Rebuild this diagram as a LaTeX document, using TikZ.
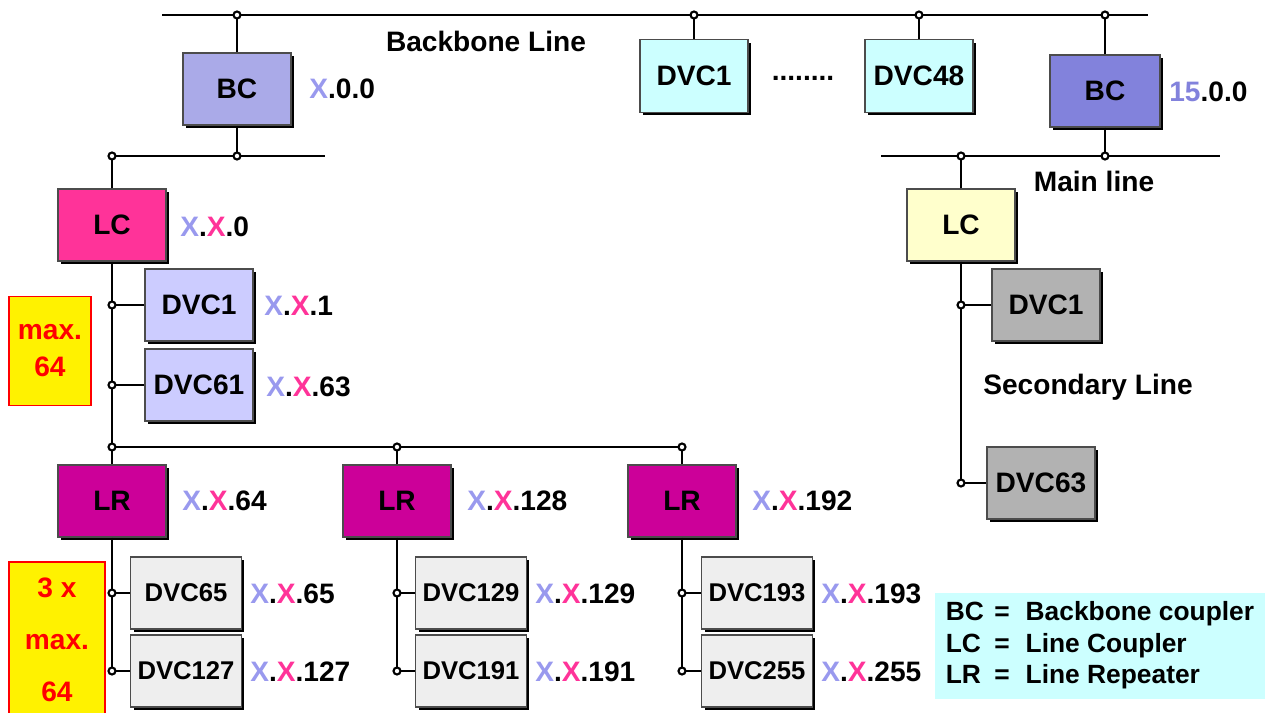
\documentclass[tikz,border=0pt]{standalone}
\usepackage{fontspec}
\setmainfont{Liberation Sans}
\usetikzlibrary{shadows}

\definecolor{bccol}{HTML}{AAAAE8}
\definecolor{bcmain}{HTML}{8282DC}
\definecolor{dvctop}{HTML}{CCFFFF}
\definecolor{lccol}{HTML}{FF3399}
\definecolor{lrcol}{HTML}{CC0099}
\definecolor{dvcline}{HTML}{CCCCFF}
\definecolor{dvcrep}{HTML}{EEEEEE}
\definecolor{dvcsec}{HTML}{B2B2B2}
\definecolor{lcsec}{HTML}{FFFFCC}
\definecolor{xarea}{HTML}{9999EE}
\definecolor{xline}{HTML}{FF3399}

\newcommand{\Xa}{\textcolor{xarea}{X}}
\newcommand{\Xl}{\textcolor{xline}{X}}

\begin{document}
\begin{tikzpicture}[x=0.02cm, y=-0.02cm, line width=1.5pt,
  font=\fontsize{16}{19}\selectfont\bfseries,
  unit/.style={draw=black!70, line width=0.6pt, inner sep=0pt,
    minimum width=2.16cm, minimum height=1.44cm,
    drop shadow={shadow xshift=0.06cm, shadow yshift=-0.06cm, opacity=1, fill=black}},
  repdvc/.style={unit, fill=dvcrep, minimum width=2.22cm,
    font=\fontsize{14.6}{17}\selectfont\bfseries},
  addr/.style={anchor=west, inner sep=0pt},
  tap/.style={draw=black, fill=white, line width=1.2pt},
  maxbox/.style={draw=red, fill=yellow, line width=0.6pt, text=red,
    align=center, inner sep=0pt}]
  \useasboundingbox (0,0) rectangle (1272,713);

  % backbone line
  \coordinate (bbL) at (162,15);
  \coordinate (bbR) at (1148,15);
  \node[unit, fill=bccol] (bcA) at (237,89) {BC};
  \node[addr] (bcAaddr) at (308,89) {\Xa.0.0};
  \node[unit, fill=dvctop, minimum height=1.46cm] (dvcTa) at (694,76) {DVC1};
  \node (dots) at (803,78) {........};
  \node[unit, fill=dvctop, minimum height=1.46cm] (dvcTb) at (919,76) {DVC48};
  \node[unit, fill=bcmain, minimum width=2.2cm] (bcB) at (1105,91) {BC};
  \node[addr] (bcBaddr) at (1168,92) {\textcolor{bcmain}{15}.0.0};
  \node (bbtext) at (486,41) {Backbone Line};
  \draw (bbL) -- (bbR);
  \foreach \n in {bcA,dvcTa,dvcTb,bcB}
    \draw (\n.north) -- (\n.north |- bbL);

  % line of the area coupler
  \coordinate (blR) at (325,156);
  \node[unit, fill=lccol] (lcA) at (112,225) {LC};
  \node[addr] (lcAaddr) at (179,227) {\Xa.\Xl.0};
  \draw (lcA.north) -- (lcA.north |- blR) -- (blR);
  \draw (bcA.south) -- (bcA.south |- blR);

  % main line
  \coordinate (mlL) at (881,156);
  \coordinate (mlR) at (1220,156);
  \node (mltext) at (1094,181) {Main line};
  \draw (mlL) -- (mlR);
  \draw (bcB.south) -- (bcB.south |- mlL);
  \node[unit, fill=lcsec] (lcB) at (961,225) {LC};
  \draw (lcB.north) -- (lcB.north |- mlL);

  % devices on the line
  \node[unit, fill=dvcline] (dvcA1) at (199,305) {DVC1};
  \node[unit, fill=dvcline] (dvcA61) at (199,385) {DVC61};
  \node[addr] (dvcA1addr) at (263,306) {\Xa.\Xl.1};
  \node[addr] (dvcA61addr) at (265,387) {\Xa.\Xl.63};
  \draw (dvcA1.west) -- (dvcA1.west -| lcA.south);
  \draw (dvcA61.west) -- (dvcA61.west -| lcA.south);
  \node[maxbox, minimum width=1.64cm, minimum height=2.18cm] (maxA) at (50,351) {max.\\[2pt]64};

  % line repeaters
  \coordinate (lrbus) at (0,447);
  \foreach \n/\x/\a in {lrA/112/64, lrB/397/128, lrC/682/192}{
    \node[unit, fill=lrcol] (\n) at (\x,501) {LR};
    \node[addr] (\n addr) at (\x+69,501) {\Xa.\Xl.\a};
  }
  \draw (lcA.south) -- (lrA.north);
  \draw (lcA.south |- lrbus) -- (lrC.north |- lrbus) -- (lrC.north);
  \draw (lrB.north) -- (lrB.north |- lrbus);

  % devices behind the repeaters
  \foreach \n/\x/\a/\b in {lrA/186/65/127, lrB/471/129/191, lrC/757/193/255}{
    \node[repdvc] (\n top) at (\x,593) {DVC\a};
    \node[repdvc] (\n bot) at (\x,671) {DVC\b};
    \node[addr] (\n topaddr) at (\x+63,594) {\Xa.\Xl.\a};
    \node[addr] (\n botaddr) at (\x+63,672) {\Xa.\Xl.\b};
    \draw (\n.south) -- (\n.south |- \n bot) -- (\n bot.west);
    \draw (\n top.west) -- (\n top.west -| \n.south);
    \draw[tap] (\n top.west -| \n.south) circle (0.07cm);
    \draw[tap] (\n bot.west -| \n.south) circle (0.07cm);
  }
  \node[maxbox, minimum width=1.92cm, minimum height=3.12cm] (maxB) at (57,640) {3 x\\[10.5pt]max.\\[10.5pt]64};

  % secondary line
  \node[unit, fill=dvcsec] (dvcB1) at (1046,305) {DVC1};
  \node[unit, fill=dvcsec] (dvcB63) at (1041,483) {DVC63};
  \node (sectext) at (1088,387) {Secondary Line};
  \draw (lcB.south) -- (lcB.south |- dvcB63) -- (dvcB63.west);
  \draw (dvcB1.west) -- (dvcB1.west -| lcB.south);

  % taps
  \foreach \p in {bcA.north |- bbL, dvcTa.north |- bbL, dvcTb.north |- bbL,
      bcB.north |- bbL, lcA.north |- blR, bcA.south |- blR, bcB.south |- mlL,
      lcB.north |- mlL, dvcA1.west -| lcA.south, dvcA61.west -| lcA.south,
      lcA.south |- lrbus, lrB.north |- lrbus, lrC.north |- lrbus,
      dvcB1.west -| lcB.south, dvcB63.west -| lcB.south}
    \draw[tap] (\p) circle (0.07cm);

  % legend
  \node[fill=dvctop, minimum width=6.6cm, minimum height=2.12cm, inner sep=0pt,
    font=\fontsize{15}{18}\selectfont\bfseries] (key) at (1100,646)
    {\begin{tabular}{@{}l@{\hspace{6pt}}c@{\hspace{9pt}}l@{}}
      BC & = & Backbone coupler\\
      LC & = & Line Coupler\\
      LR & = & Line Repeater
    \end{tabular}};
\end{tikzpicture}
\end{document}
